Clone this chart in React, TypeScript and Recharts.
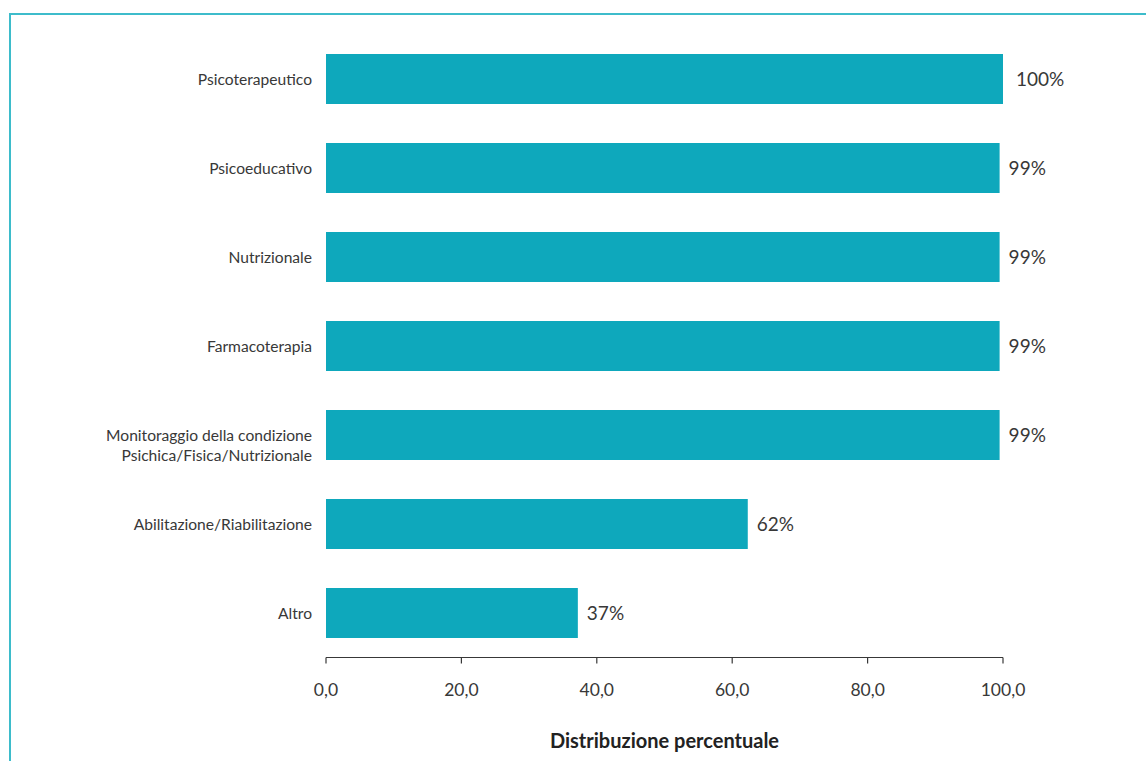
import { BarChart, Bar, XAxis, YAxis, LabelList } from "recharts";

const categories = [
  "Psicoterapeutico",
  "Psicoeducativo",
  "Nutrizionale",
  "Farmacoterapia",
  "Monitoraggio della condizione\nPsichica/Fisica/Nutrizionale",
  "Abilitazione/Riabilitazione",
  "Altro",
];
const values = [100.6, 99.5, 99.5, 99.5, 99.5, 62.3, 37.2];
const valueLabels = ["100%", "99%", "99%", "99%", "99%", "62%", "37%"];
const xTicks = [0, 20, 40, 60, 80, 100];

const data = categories.map((name, i) => ({
  name,
  value: values[i],
  label: valueLabels[i],
}));

const FONT = "Lato, 'Open Sans', sans-serif";
const TEXT = "#383838";

function CategoryTick({ x, y, payload }: any) {
  const lines = String(payload.value).split("\n");
  const lineH = 20;
  return (
    <text
      x={x - 6}
      y={y}
      textAnchor="end"
      dominantBaseline="central"
      fill={TEXT}
      fontSize={15.6}
      fontFamily={FONT}
    >
      {lines.map((l, i) => (
        <tspan key={i} x={x - 6} dy={i === 0 ? 0 : lineH}>
          {l}
        </tspan>
      ))}
    </text>
  );
}

export default function App() {
  return (
    <div
      style={{
        position: "absolute",
        left: 0,
        top: 0,
        width: 1146,
        height: 761,
        background: "#fff",
        overflow: "hidden",
      }}
    >
      <div
        style={{
          position: "absolute",
          left: 9,
          top: 13,
          width: 1150,
          height: 760,
          borderLeft: "2px solid #3dbccb",
          borderTop: "2px solid #3dbccb",
        }}
      />
      <div style={{ position: "absolute", left: 0, top: 0 }}>
        <BarChart
          width={1146}
          height={761}
          data={data}
          layout="vertical"
          margin={{ top: 34.5, right: 143, bottom: 3.5, left: 0 }}
          barCategoryGap="22%"
        >
          <XAxis
            type="number"
            domain={[0, 100]}
            allowDataOverflow
            ticks={xTicks}
            height={100}
            tickFormatter={(v: number) => v.toFixed(1).replace(".", ",")}
            axisLine={{ stroke: TEXT, strokeWidth: 1.2 }}
            tickLine={{ stroke: TEXT, strokeWidth: 1.2 }}
            tickSize={6}
            tickMargin={20}
            tick={{ fill: TEXT, fontSize: 17.5, fontFamily: FONT }}
            label={{
              value: "Distribuzione percentuale",
              position: "insideBottom",
              offset: 10,
              fill: "#222",
              fontSize: 20,
              fontWeight: 700,
              fontFamily: FONT,
            }}
          />
          <YAxis
            type="category"
            dataKey="name"
            width={326}
            axisLine={false}
            tickLine={false}
            tick={<CategoryTick />}
            interval={0}
          />
          <Bar dataKey="value" fill="#0ea8bc" isAnimationActive={false}>
            <LabelList
              dataKey="label"
              position="right"
              offset={9}
              fill={TEXT}
              fontSize={19}
              fontFamily={FONT}
            />
          </Bar>
        </BarChart>
      </div>
    </div>
  );
}
